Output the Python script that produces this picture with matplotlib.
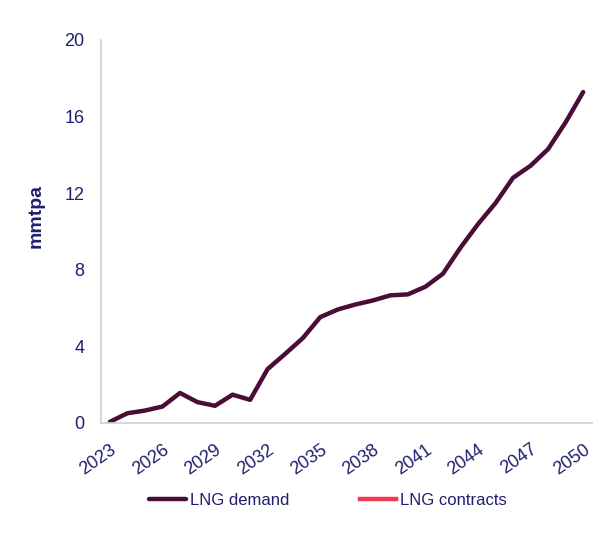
import matplotlib.pyplot as plt

plt.rcParams['font.family'] = ['Liberation Sans', 'DejaVu Sans']

years = list(range(2023, 2051))
lng_demand = [0.05, 0.5, 0.64, 0.85, 1.56, 1.08, 0.89, 1.47, 1.2, 2.81,
              3.6, 4.42, 5.52, 5.92, 6.18, 6.39, 6.66, 6.71, 7.11, 7.79,
              9.15, 10.38, 11.48, 12.8, 13.43, 14.3, 15.7, 17.28]
lng_contracts = []  # no contract volumes shown in the chart
tick_years = years[::3]

navy = '#1F1F6E'
demand_color = '#4A0D38'
contracts_color = '#F23A4E'

fig = plt.figure(figsize=(6.09, 5.4), dpi=100)
ax = fig.add_axes([0.166, 0.217, 0.806, 0.709])

x = list(range(len(years)))
ax.plot(x, lng_demand, color=demand_color, linewidth=3.2, label='LNG demand',
        solid_capstyle='round', solid_joinstyle='round')
ax.plot(range(len(lng_contracts)), lng_contracts, color=contracts_color,
        linewidth=3.2, label='LNG contracts')

ax.set_xlim(-0.5, len(years) - 0.5)
ax.set_ylim(0, 20)
ax.set_yticks([0, 4, 8, 12, 16, 20])
ax.set_xticks([years.index(y) for y in tick_years])
ax.set_xticklabels([str(y) for y in tick_years], rotation=35, ha='right',
                   rotation_mode='anchor')
ax.tick_params(axis='both', length=0, labelsize=13, labelcolor=navy)
ax.tick_params(axis='x', pad=13)
ax.tick_params(axis='y', pad=12)

for side in ['top', 'right']:
    ax.spines[side].set_visible(False)
for side in ['left', 'bottom']:
    ax.spines[side].set_color('#D0D0D0')
    ax.spines[side].set_linewidth(1.2)

ax.set_ylabel('mmtpa', fontsize=14, fontweight='bold', color=navy)
ax.yaxis.set_label_coords(-0.115, 0.54)

fig.legend(loc='center', bbox_to_anchor=(0.539, 0.074), ncol=2, frameon=False,
           fontsize=12, handlelength=2.2, columnspacing=4.2, handletextpad=0.25,
           labelcolor=navy)

plt.savefig('out.png', dpi=100)
